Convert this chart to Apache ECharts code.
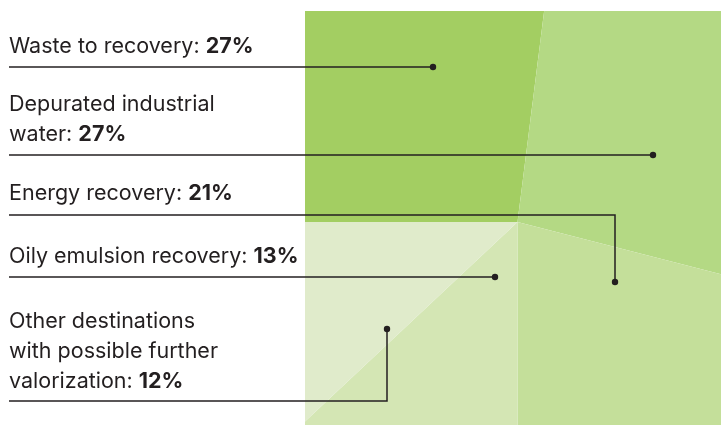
<!DOCTYPE html>
<html>
<head>
<meta charset="utf-8">
<script src="https://cdn.jsdelivr.net/npm/echarts@6/dist/echarts.min.js"></script>
<style>
html, body { margin: 0; padding: 0; background: #fff; }
#chart { width: 721px; height: 425px; }
</style>
</head>
<body>
<div id="chart"></div>
<script>
// categories, in clockwise order starting from the left (9 o'clock)
var categories = ['Waste to recovery', 'Depurated industrial water', 'Energy recovery',
	'Oily emulsion recovery', 'Other destinations with possible further valorization'];
// share of each destination, percent
var shares = [27, 27, 21, 13, 12];
// label text as it wraps on the left side
var labelLines = [
	['Waste to recovery: '],
	['Depurated industrial', 'water: '],
	['Energy recovery: '],
	['Oily emulsion recovery: '],
	['Other destinations', 'with possible further', 'valorization: ']
];
var colors = ['#a3ce62', '#b4d984', '#c4df9a', '#d4e6b4', '#e0ebcb'];

// where each label and its leader sit (first text line centre, leader y, dot)
var layout = [
	{ textY: 47, lineY: 67, dot: [433, 67] },
	{ textY: 105, lineY: 155, dot: [653, 155] },
	{ textY: 194, lineY: 215, dot: [615, 282] },
	{ textY: 257, lineY: 277, dot: [495, 277] },
	{ textY: 322, lineY: 401, dot: [387, 329] }
];

var ink = '#231f20';
var data = [];
for (var i = 0; i < categories.length; i++) {
	data.push({ name: categories[i], value: shares[i], itemStyle: { color: colors[i] } });
}

var elements = [];
// white mask so the pie only shows inside its square panel
elements.push({ type: 'rect', z: 100, shape: { x: 0, y: 0, width: 305, height: 425 }, style: { fill: '#fff' } });
elements.push({ type: 'rect', z: 100, shape: { x: 0, y: 0, width: 721, height: 11 }, style: { fill: '#fff' } });

for (var i = 0; i < labelLines.length; i++) {
	var lines = labelLines[i];
	var lay = layout[i];
	for (var j = 0; j < lines.length; j++) {
		var last = j == lines.length - 1;
		elements.push({
			type: 'text',
			z: 110,
			x: 9,
			y: lay.textY + j * 30,
			style: {
				text: last ? '{n|' + lines[j] + '}{b|' + shares[i] + '%}' : '{n|' + lines[j] + '}',
				verticalAlign: 'middle',
				textVerticalAlign: 'middle',
				rich: {
					n: { fontFamily: 'Inter', fontSize: 21.5, fontWeight: 400, fill: ink, color: ink },
					b: { fontFamily: 'Inter', fontSize: 21.5, fontWeight: 700, fill: ink, color: ink }
				}
			}
		});
	}
	var pts = [[9, lay.lineY], [lay.dot[0], lay.lineY]];
	if (lay.dot[1] != lay.lineY) {
		pts.push([lay.dot[0], lay.dot[1]]);
	}
	elements.push({
		type: 'polyline', z: 110,
		shape: { points: pts },
		style: { stroke: ink, lineWidth: 1.5, fill: null }
	});
	elements.push({
		type: 'circle', z: 111,
		shape: { cx: lay.dot[0], cy: lay.dot[1], r: 3.2 },
		style: { fill: ink }
	});
}

var myChart = echarts.init(document.getElementById('chart'));
var option = {
	animation: false,
	backgroundColor: '#fff',
	series: [{
		type: 'pie',
		center: [517.5, 222],
		radius: [0, 700],
		startAngle: 180,
		clockwise: true,
		label: { show: false },
		labelLine: { show: false },
		emphasis: { disabled: true },
		silent: true,
		itemStyle: { borderWidth: 0 },
		data: data
	}],
	graphic: { elements: elements }
};
myChart.setOption(option);
</script>
</body>
</html>
